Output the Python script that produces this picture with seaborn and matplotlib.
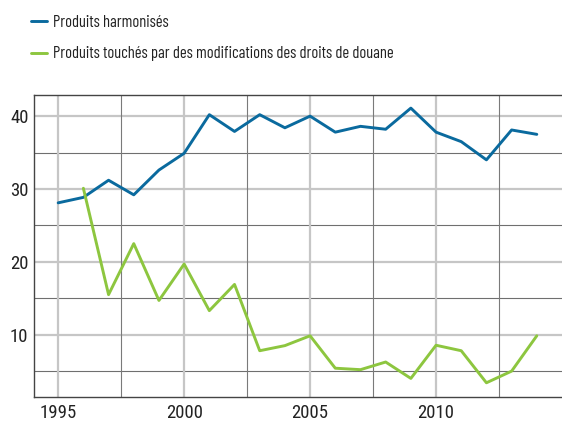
import numpy as np
import pandas as pd
import matplotlib
matplotlib.use("Agg")
import matplotlib.pyplot as plt
from matplotlib.lines import Line2D
import seaborn as sns

years_harm = list(range(1995, 2015))
harmonises = [28.1, 28.85, 31.2, 29.2, 32.6, 34.9, 40.2, 37.9, 40.2, 38.4,
              40.0, 37.8, 38.6, 38.2, 41.1, 37.8, 36.5, 34.0, 38.1, 37.5]
years_mod = list(range(1996, 2015))
modifies = [30.1, 15.5, 22.5, 14.7, 19.7, 13.3, 16.9, 7.8, 8.5, 9.85,
            5.4, 5.2, 6.25, 4.0, 8.55, 7.8, 3.4, 5.0, 9.85]

lab_harm = "Produits harmonisés"
lab_mod = "Produits touchés par des modifications des droits de douane"
c_harm = "#0a6a9e"
c_mod = "#8dc63f"

df = pd.concat([
    pd.DataFrame({"annee": years_harm, "valeur": harmonises, "serie": lab_harm}),
    pd.DataFrame({"annee": years_mod, "valeur": modifies, "serie": lab_mod}),
])

sns.set_theme(style="white")
plt.rcParams['font.family'] = ['Roboto Condensed', 'DejaVu Sans']

fig = plt.figure(figsize=(5.62, 4.23), dpi=100)
ax = fig.add_axes([0.0605, 0.0615, 0.9395, 0.7139])

# grid: light thick lines on labelled values, thin darker ones between
for y in [5, 15, 25, 35]:
    ax.axhline(y, color="#6f6f6f", lw=0.8, zorder=0)
for y in [10, 20, 30, 40]:
    ax.axhline(y, color="#c6c6c6", lw=1.6, zorder=0)
for x in [1997.5, 2002.5, 2007.5, 2012.5]:
    ax.axvline(x, color="#7a7a7a", lw=0.8, zorder=0)
for x in [1995, 2000, 2005, 2010]:
    ax.axvline(x, color="#c6c6c6", lw=1.6, zorder=0)

sns.lineplot(data=df, x="annee", y="valeur", hue="serie",
             palette={lab_harm: c_harm, lab_mod: c_mod},
             linewidth=2.1, ax=ax, legend=False)

ax.set_xlim(1994.04, 2015)
ax.set_ylim(1.45, 42.9)
ax.set_xticks([1995, 2000, 2005, 2010])
ax.set_yticks([10, 20, 30, 40])
ax.tick_params(length=0, labelsize=13.5, colors="#222222")
ax.tick_params(axis="x", pad=5)
ax.tick_params(axis="y", pad=4)
ax.set_xlabel("")
ax.set_ylabel("")
for s in ["left", "bottom", "top"]:
    ax.spines[s].set_color("#444444")
    ax.spines[s].set_linewidth(1)
ax.spines["right"].set_visible(False)

handles = [Line2D([], [], color=c_harm, lw=2.1),
           Line2D([], [], color=c_mod, lw=2.1)]
fig.legend(handles, [lab_harm, lab_mod], loc="upper left",
           bbox_to_anchor=(0.055, 0.965), frameon=False,
           prop={"family": ["Barlow Condensed", "DejaVu Sans"], "size": 11.9},
           handlelength=1.0, handletextpad=0.35, labelspacing=1.0,
           borderpad=0, borderaxespad=0, labelcolor="#222222")

fig.savefig("out.png", dpi=100)
